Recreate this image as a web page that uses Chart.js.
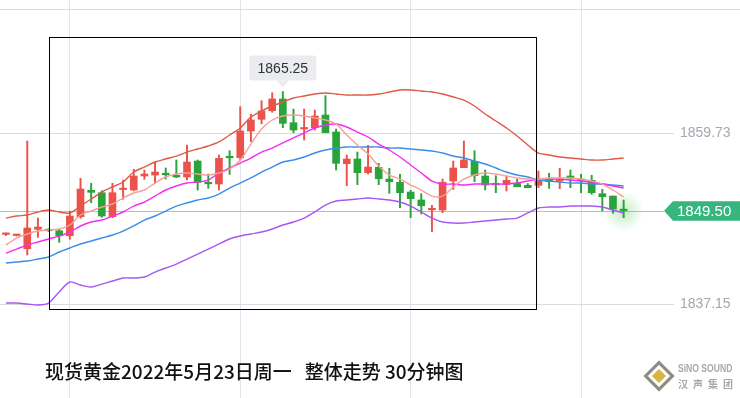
<!DOCTYPE html>
<html>
<head>
<meta charset="utf-8">
<script src="https://cdn.jsdelivr.net/npm/chart.js@4.4.0/dist/chart.umd.min.js"></script>
<style>
  html, body { margin: 0; padding: 0; background: #fff; }
  #wrap { position: relative; width: 740px; height: 398px; overflow: hidden; }
  #title { position: absolute; left: 45px; top: 357px; font-family: "Noto Sans CJK SC"; font-weight: 500; font-size: 19px; line-height: 28px; color: #111; white-space: pre; }
  #logo { position: absolute; left: 644px; top: 358px; width: 96px; height: 36px; }
  #logo .dia { position: absolute; left: 4px; top: 7px; width: 16px; height: 16px; transform: rotate(45deg); border: 3px solid #8c8c8c; background: #d8b545; box-shadow: inset 0 0 0 3px #fff; }
  #logo .en { position: absolute; left: 34px; top: 4px; font-family: "Liberation Sans"; font-weight: bold; font-size: 11px; color: #a9a9ad; white-space: nowrap; transform: scaleX(0.78); transform-origin: left top; }
  #logo .cn { position: absolute; left: 34px; top: 18px; font-family: "Noto Sans CJK SC"; font-weight: bold; font-size: 10px; color: #a9a9ad; letter-spacing: 5px; white-space: nowrap; }
</style>
</head>
<body>
<div id="wrap">
  <canvas id="chart" width="740" height="398"></canvas>
  <div id="title">现货黄金2022年5月23日周一   整体走势 30分钟图</div>
  <div id="logo"><div class="dia"></div><div class="en">SiNO SOUND</div><div class="cn">汉声集团</div></div>
</div>
<script>
// 30-minute candles
const opens = [1846.36, 1846.21, 1844.46, 1847.03, 1847.03, 1846.84, 1846.18, 1848.70, 1852.19, 1851.87,
    1848.70, 1852.29, 1852.23, 1854.08, 1854.21, 1854.44, 1854.17, 1853.95, 1856.06, 1853.18,
    1853.02, 1856.62, 1856.50, 1860.03, 1861.58, 1862.72, 1864.27, 1861.13, 1860.30, 1860.47,
    1862.15, 1859.90, 1855.71, 1856.33, 1854.52, 1855.23, 1853.68, 1853.25, 1851.96, 1850.91,
    1849.61, 1849.58, 1853.42, 1855.18, 1856.02, 1854.08, 1853.05, 1852.96, 1853.11, 1852.85,
    1852.85, 1853.64, 1853.42, 1854.08, 1853.62, 1853.51, 1851.74, 1851.43, 1849.61];
const closes = [1846.44, 1846.27, 1847.20, 1847.33, 1846.84, 1846.18, 1848.79, 1852.36, 1851.92, 1848.79,
    1851.87, 1852.43, 1854.08, 1854.34, 1854.61, 1854.25, 1853.95, 1855.93, 1853.25, 1853.05,
    1856.42, 1856.49, 1860.03, 1861.49, 1862.68, 1864.27, 1861.05, 1860.16, 1860.43, 1862.02,
    1859.81, 1855.76, 1856.33, 1854.52, 1855.27, 1853.72, 1853.33, 1851.87, 1851.08, 1850.15,
    1849.74, 1853.25, 1855.14, 1856.20, 1854.12, 1852.89, 1852.92, 1853.51, 1852.66, 1852.53,
    1853.46, 1853.33, 1853.77, 1853.81, 1853.48, 1851.87, 1851.34, 1849.71, 1849.50];
const highs = [1846.54, 1846.34, 1858.71, 1848.52, 1847.13, 1847.03, 1849.45, 1853.77, 1853.11, 1852.13,
    1853.11, 1853.55, 1854.97, 1854.87, 1855.93, 1855.14, 1856.20, 1858.18, 1856.20, 1854.34,
    1856.86, 1857.43, 1863.25, 1862.24, 1864.04, 1865.10, 1865.25, 1862.94, 1862.94, 1862.81,
    1864.70, 1860.30, 1856.86, 1857.25, 1858.14, 1855.76, 1855.10, 1854.30, 1852.19, 1851.74,
    1850.20, 1853.68, 1856.06, 1858.71, 1857.43, 1854.87, 1854.12, 1854.08, 1853.64, 1853.09,
    1854.74, 1854.44, 1855.10, 1854.87, 1854.30, 1854.17, 1852.32, 1851.43, 1850.91];
const lows = [1846.21, 1846.14, 1843.63, 1845.97, 1846.74, 1845.31, 1845.71, 1848.48, 1850.55, 1848.62,
    1848.56, 1851.00, 1852.10, 1853.64, 1853.11, 1853.68, 1853.86, 1853.55, 1852.23, 1852.45,
    1852.23, 1854.30, 1856.20, 1858.62, 1861.00, 1862.51, 1860.47, 1859.81, 1858.84, 1860.16,
    1859.81, 1854.87, 1852.80, 1852.93, 1854.34, 1852.93, 1851.79, 1849.89, 1848.56, 1849.05,
    1846.71, 1849.23, 1852.32, 1855.18, 1853.33, 1852.23, 1851.87, 1852.10, 1852.66, 1852.53,
    1852.53, 1852.45, 1852.40, 1852.53, 1851.87, 1851.66, 1849.45, 1849.15, 1848.56];

// indicator lines
const bollUpper = [1848.52, 1848.79, 1848.92, 1849.32, 1849.58, 1849.32, 1849.19, 1850.11, 1851.04, 1851.96,
    1852.63, 1853.29, 1854.61, 1855.27, 1855.93, 1856.33, 1856.72, 1857.25, 1857.65, 1858.05,
    1858.58, 1859.50, 1860.43, 1861.88, 1862.68, 1863.34, 1863.87, 1864.40, 1864.66, 1864.93,
    1865.06, 1864.93, 1864.79, 1864.79, 1864.79, 1864.93, 1865.19, 1865.46, 1865.46, 1865.32,
    1865.19, 1864.93, 1864.53, 1864.13, 1863.34, 1862.28, 1861.36, 1860.43, 1859.37, 1858.18,
    1857.12, 1856.86, 1856.59, 1856.46, 1856.33, 1856.20, 1856.20, 1856.33, 1856.46];
const ma5 = [1844.95, 1845.88, 1846.41, 1846.80, 1846.94, 1847.07, 1847.60, 1848.92, 1849.45, 1849.98,
    1850.38, 1851.17, 1851.83, 1852.23, 1853.15, 1853.95, 1854.34, 1854.48, 1854.34, 1854.21,
    1854.48, 1855.01, 1856.20, 1858.31, 1860.30, 1861.49, 1862.02, 1862.15, 1862.02, 1861.75,
    1861.49, 1860.96, 1859.50, 1858.18, 1856.99, 1855.40, 1854.21, 1853.68, 1852.89, 1852.23,
    1851.43, 1851.43, 1852.63, 1853.68, 1854.21, 1854.48, 1854.34, 1854.08, 1853.82, 1853.68,
    1853.68, 1853.82, 1853.82, 1853.82, 1853.68, 1853.42, 1853.02, 1852.23, 1851.30];
const ma10 = [1843.89, 1844.42, 1844.95, 1845.35, 1845.75, 1846.14, 1846.67, 1847.47, 1848.00, 1848.26,
    1848.79, 1849.32, 1850.11, 1850.64, 1851.43, 1852.23, 1852.76, 1853.15, 1853.29, 1853.55,
    1854.48, 1855.14, 1855.80, 1856.46, 1857.25, 1857.78, 1858.45, 1859.11, 1859.77, 1860.43,
    1860.83, 1860.96, 1860.56, 1859.90, 1859.24, 1858.31, 1857.52, 1856.59, 1855.54, 1854.48,
    1853.42, 1853.02, 1853.02, 1852.89, 1853.02, 1853.02, 1853.02, 1853.02, 1853.15, 1853.42,
    1853.68, 1853.68, 1853.68, 1853.55, 1853.42, 1853.29, 1853.02, 1852.76, 1852.49];
const bollMid = [1842.57, 1842.70, 1842.84, 1843.10, 1843.37, 1844.03, 1844.56, 1845.09, 1845.48, 1845.88,
    1846.28, 1846.80, 1847.47, 1848.26, 1848.79, 1849.45, 1850.11, 1850.51, 1850.91, 1851.17,
    1851.70, 1852.49, 1853.15, 1853.82, 1854.61, 1855.27, 1855.93, 1856.20, 1856.59, 1857.12,
    1857.52, 1857.78, 1857.92, 1857.92, 1857.92, 1857.92, 1857.78, 1857.78, 1857.65, 1857.52,
    1857.39, 1857.12, 1856.72, 1856.46, 1856.06, 1855.67, 1855.14, 1854.61, 1854.21, 1853.95,
    1853.55, 1853.42, 1853.29, 1853.15, 1853.15, 1853.02, 1853.02, 1852.89, 1852.76];
const bollLower = [1837.28, 1837.28, 1837.15, 1837.02, 1837.28, 1838.74, 1840.06, 1839.66, 1839.40, 1839.79,
    1840.19, 1840.59, 1840.59, 1840.72, 1841.38, 1841.91, 1842.44, 1843.10, 1843.76, 1844.42,
    1845.09, 1845.75, 1846.14, 1846.41, 1846.67, 1847.07, 1847.60, 1848.00, 1848.52, 1849.32,
    1850.24, 1850.77, 1850.91, 1851.04, 1851.17, 1851.04, 1850.91, 1850.64, 1850.11, 1849.32,
    1848.52, 1848.00, 1847.86, 1847.86, 1848.00, 1848.13, 1848.26, 1848.39, 1848.52, 1849.19,
    1849.85, 1849.98, 1849.98, 1850.11, 1850.11, 1850.11, 1849.98, 1849.58, 1849.19];

// axis labels on the right, vertical grid every 16 bars
const priceTicks = [1837.15, 1859.73];
const gridBars = [6, 22, 38, 54];
const lastPrice = 1849.50;

const RED = '#eb5249';
const GREEN = '#28a43a';

const upColor = closes.map((c, i) => c >= opens[i] ? RED : GREEN);
const toPts = arr => arr.map((v, i) => ({ x: i, y: v }));

function lineSet(arr, color, order) {
    return {
        type: 'line',
        data: toPts(arr),
        borderColor: color,
        borderWidth: 1.4,
        pointRadius: 0,
        tension: 0.3,
        order: order
    };
}

// decorations: top rule, current price line, frame box, peak label, price badge
const decor = {
    id: 'decor',
    beforeDatasetsDraw(chart) {
        const { ctx, scales: { x, y } } = chart;
        ctx.save();
        ctx.strokeStyle = '#d9d9e0';
        ctx.lineWidth = 1;
        ctx.beginPath();
        ctx.moveTo(0, 9.5);
        ctx.lineTo(740, 9.5);
        ctx.stroke();

        const py = Math.round(y.getPixelForValue(lastPrice)) + 0.5;
        ctx.strokeStyle = '#8fd6b8';
        ctx.beginPath();
        ctx.moveTo(0, py);
        ctx.lineTo(664, py);
        ctx.stroke();

        // glow around the last bar
        const gx = x.getPixelForValue(closes.length - 1);
        const g = ctx.createRadialGradient(gx, py, 0, gx, py, 20);
        g.addColorStop(0, 'rgba(90,200,90,0.35)');
        g.addColorStop(1, 'rgba(90,200,90,0)');
        ctx.fillStyle = g;
        ctx.fillRect(gx - 20, py - 20, 40, 40);
        ctx.restore();
    },
    afterDatasetsDraw(chart) {
        const { ctx, scales: { x, y } } = chart;
        ctx.save();
        // black frame
        ctx.strokeStyle = '#000';
        ctx.lineWidth = 1;
        ctx.strokeRect(49.5, 37.5, 487, 272);

        // peak label
        const hi = Math.max(...highs);
        const hx = x.getPixelForValue(highs.indexOf(hi));
        const hy = y.getPixelForValue(hi);
        const bw = 67, bh = 25, bb = hy - 11;
        ctx.fillStyle = '#eaecf0';
        ctx.beginPath();
        ctx.roundRect(hx - bw / 2, bb - bh, bw, bh, 3);
        ctx.fill();
        ctx.beginPath();
        ctx.moveTo(hx - 6, bb);
        ctx.lineTo(hx + 6, bb);
        ctx.lineTo(hx, bb + 7);
        ctx.fill();
        ctx.fillStyle = '#333';
        ctx.font = '14px "Liberation Sans"';
        ctx.textAlign = 'center';
        ctx.textBaseline = 'middle';
        ctx.fillText(hi.toFixed(2), hx, bb - bh / 2 + 1);

        // last price badge
        const py = y.getPixelForValue(lastPrice);
        ctx.fillStyle = '#36b67c';
        ctx.beginPath();
        ctx.moveTo(664, py);
        ctx.lineTo(673, py - 9.5);
        ctx.lineTo(740, py - 9.5);
        ctx.lineTo(740, py + 10);
        ctx.lineTo(673, py + 10);
        ctx.closePath();
        ctx.fill();
        ctx.fillStyle = '#fff';
        ctx.font = '15px "Liberation Sans"';
        ctx.textAlign = 'left';
        ctx.fillText(lastPrice.toFixed(2), 677, py + 1);
        ctx.restore();
    }
};

const ctx = document.getElementById('chart').getContext('2d');
new Chart(ctx, {
    type: 'bar',
    data: {
        datasets: [
            lineSet(bollUpper, '#e05a45', 0),
            lineSet(ma5, '#f6a096', 0),
            lineSet(ma10, '#f52df2', 0),
            lineSet(bollMid, '#3a8ee8', 0),
            lineSet(bollLower, '#a758f2', 0),
            {
                // candle bodies
                data: opens.map((o, i) => ({ x: i, y: [o, closes[i]] })),
                backgroundColor: upColor,
                barThickness: 7,
                minBarLength: 1.5,
                grouped: false,
                order: 2
            },
            {
                // wicks
                data: lows.map((l, i) => ({ x: i, y: [l, highs[i]] })),
                backgroundColor: upColor,
                barThickness: 1.3,
                grouped: false,
                order: 3
            }
        ]
    },
    options: {
        responsive: false,
        animation: false,
        layout: { padding: 0 },
        plugins: { legend: { display: false }, tooltip: { enabled: false } },
        scales: {
            x: {
                type: 'linear',
                offset: false,
                min: -0.56,
                max: 62.73,
                afterBuildTicks: s => { s.ticks = gridBars.map(v => ({ value: v })); },
                ticks: { display: false },
                grid: { color: '#e3e3ea', drawTicks: false, offset: false },
                border: { display: false }
            },
            y: {
                position: 'right',
                min: 1824.72,
                max: 1877.36,
                afterBuildTicks: s => { s.ticks = priceTicks.map(v => ({ value: v })); },
                afterFit: s => { s.width = 66; s.paddingTop = 0; s.paddingBottom = 0; },
                grid: { color: '#dadae2', drawTicks: false },
                border: { display: false },
                ticks: {
                    padding: 6,
                    color: '#a6a6b0',
                    font: { family: 'Liberation Sans', size: 14 },
                    callback: v => v.toFixed(2)
                }
            }
        }
    },
    plugins: [decor]
});
</script>
</body>
</html>
